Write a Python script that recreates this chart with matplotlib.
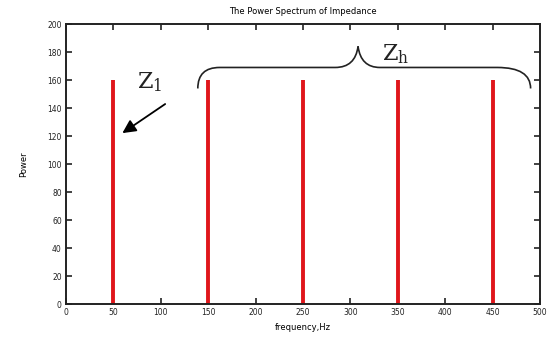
import matplotlib
matplotlib.use("Agg")
import matplotlib.pyplot as plt
from matplotlib.path import Path
from matplotlib.patches import PathPatch

# spectral lines
freqs = [50, 150, 250, 350, 450]
power = [160, 160, 160, 160, 160]

x_ticks = list(range(0, 501, 50))
y_ticks = list(range(0, 201, 20))

fig = plt.figure(figsize=(5.5, 3.39), dpi=100)
ax = fig.add_axes([0.12, 0.103, 0.862, 0.826])

ax.vlines(freqs, 0, power, colors="#e0161b", linewidth=2.8)

ax.set_xlim(0, 500)
ax.set_ylim(0, 200)
ax.set_xticks(x_ticks)
ax.set_yticks(y_ticks)
ax.tick_params(direction="in", length=4, width=1.2, labelsize=5.5,
               top=True, right=True, pad=3, colors="#222222")
for s in ax.spines.values():
    s.set_linewidth(1.4)
    s.set_color("#222222")

ax.set_title("The Power Spectrum of Impedance", fontsize=6, pad=7)
ax.set_xlabel("frequency,Hz", fontsize=6, labelpad=4)
ax.set_ylabel("Power", fontsize=6, labelpad=14)

# curly brace over the harmonic lines
verts = [(139, 154), (139, 169), (162, 169),
         (284, 169),
         (305, 169), (308, 184),
         (311, 169), (331, 169),
         (455, 169),
         (490, 169), (490, 154)]
codes = [Path.MOVETO, Path.CURVE3, Path.CURVE3,
         Path.LINETO,
         Path.CURVE3, Path.CURVE3,
         Path.CURVE3, Path.CURVE3,
         Path.LINETO,
         Path.CURVE3, Path.CURVE3]
ax.add_patch(PathPatch(Path(verts, codes), fill=False, lw=1.2,
                       color="#222222", clip_on=False))

plt.rcParams["mathtext.fontset"] = "dejavuserif"
ax.text(75, 154, r"$\mathrm{Z}_1$", fontsize=16, color="#222222")
ax.text(333, 174, r"$\mathrm{Z}_\mathrm{h}$", fontsize=16, color="#222222")

ax.annotate("", xy=(57, 121), xytext=(107, 144),
            arrowprops=dict(arrowstyle="-|>,head_length=0.8,head_width=0.4",
                            color="black", lw=1.3))

fig.savefig("out.png", dpi=100)
